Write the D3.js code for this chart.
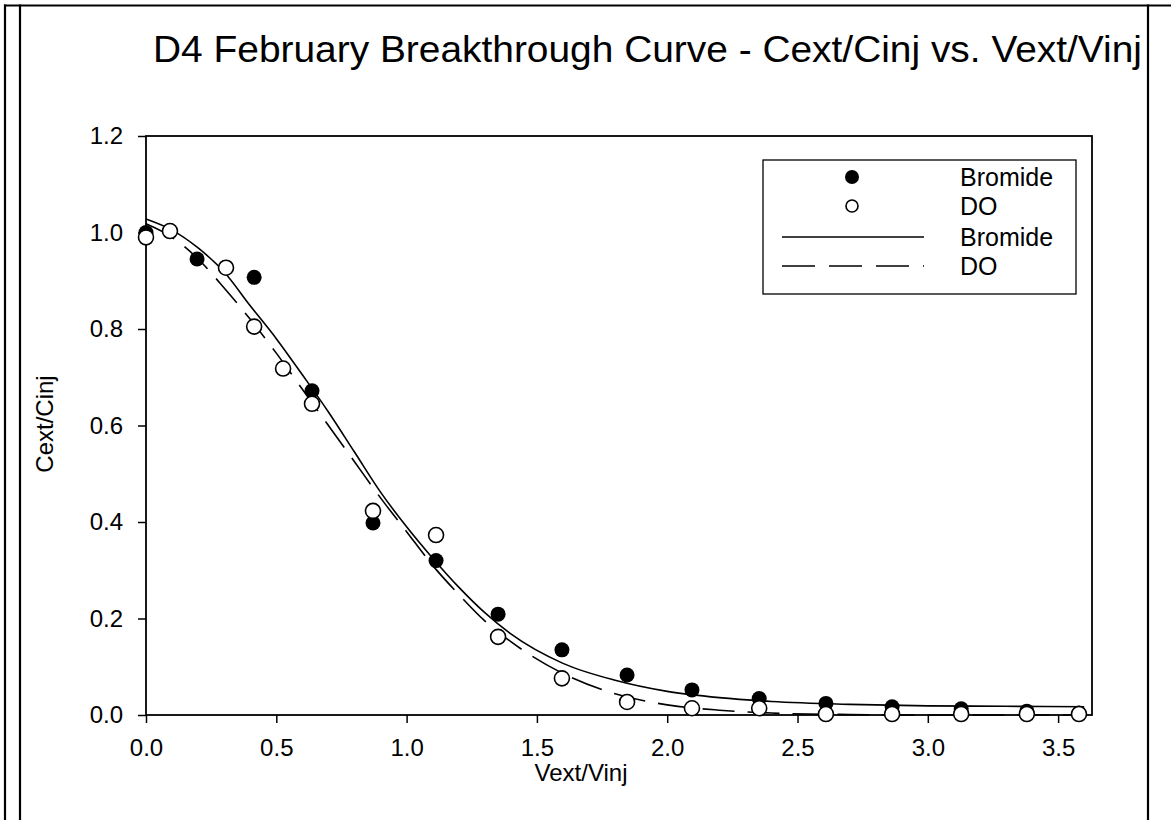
<!DOCTYPE html>
<html>
<head>
<meta charset="utf-8">
<script src="https://cdn.jsdelivr.net/npm/d3@7"></script>
<style>
  html, body { margin: 0; padding: 0; background: #fff; }
  svg { display: block; }
  text { font-family: "Liberation Sans", Arial, sans-serif; fill: #000; }
</style>
</head>
<body>
<svg id="chart" width="1171" height="820"></svg>
<script>
// Measured breakthrough data (Cext/Cinj against Vext/Vinj)
const bromideX = [0.0, 0.196, 0.415, 0.637, 0.871, 1.113, 1.351, 1.596, 1.846, 2.095, 2.353, 2.609, 2.863, 3.128, 3.38, 3.58];
const bromideY = [1.00, 0.945, 0.907, 0.672, 0.398, 0.320, 0.209, 0.135, 0.083, 0.052, 0.034, 0.024, 0.017, 0.013, 0.008, 0.004];

const doX = [0.0, 0.092, 0.307, 0.415, 0.526, 0.637, 0.871, 1.113, 1.351, 1.596, 1.846, 2.095, 2.353, 2.609, 2.863, 3.128, 3.38, 3.58];
const doY = [0.99, 1.003, 0.927, 0.805, 0.718, 0.645, 0.423, 0.373, 0.162, 0.076, 0.027, 0.014, 0.014, 0.002, 0.002, 0.002, 0.002, 0.002];

// Fitted curves, sampled along Vext/Vinj
const fitX       = [0.0, 0.1, 0.2, 0.3, 0.4, 0.5, 0.6, 0.7, 0.8, 0.9, 1.0, 1.1, 1.2, 1.3, 1.4, 1.6, 1.8, 2.0, 2.2, 2.4, 2.7, 3.0, 3.3, 3.6];
const bromideFit = [1.028, 1.005, 0.968, 0.918, 0.848, 0.780, 0.705, 0.628, 0.545, 0.462, 0.390, 0.325, 0.265, 0.212, 0.168, 0.107, 0.072, 0.049, 0.036, 0.028, 0.022, 0.019, 0.018, 0.017];
const doFit      = [1.018, 0.990, 0.945, 0.885, 0.820, 0.750, 0.675, 0.600, 0.525, 0.450, 0.380, 0.310, 0.250, 0.195, 0.152, 0.086, 0.044, 0.021, 0.010, 0.004, 0.001, 0.000, 0.000, 0.000];

const yTicks = [0.0, 0.2, 0.4, 0.6, 0.8, 1.0, 1.2];
const xTicks = [0.0, 0.5, 1.0, 1.5, 2.0, 2.5, 3.0, 3.5];

const titleText = "D4 February Breakthrough Curve - Cext/Cinj vs. Vext/Vinj";
const xLabel = "Vext/Vinj";
const yLabel = "Cext/Cinj";
const legendItems = [
  { label: "Bromide", kind: "filled" },
  { label: "DO", kind: "open" },
  { label: "Bromide", kind: "solid" },
  { label: "DO", kind: "dashed" }
];

const svg = d3.select("#chart");
const W = 1171, H = 820;
const plot = { left: 146, right: 1092, top: 136, bottom: 715 };
const FONT = "Liberation Sans, Arial, sans-serif";

const x = d3.scaleLinear().domain([0, 3.63]).range([plot.left, plot.right]);
const y = d3.scaleLinear().domain([0, 1.2]).range([plot.bottom, plot.top]);

// Page frame lines
const frame = svg.append("g").attr("stroke", "#000").attr("stroke-width", 2.2);
frame.append("line").attr("x1", 4).attr("x2", W).attr("y1", 5.5).attr("y2", 5.5);
frame.append("line").attr("x1", 5).attr("x2", 5).attr("y1", 4.5).attr("y2", H);
frame.append("line").attr("x1", 20).attr("x2", 20).attr("y1", 4.5).attr("y2", H);
frame.append("line").attr("x1", 1148).attr("x2", 1148).attr("y1", 4.5).attr("y2", H);

// Title
svg.append("text")
  .attr("x", 153).attr("y", 62)
  .attr("font-size", 36)
  .attr("textLength", 989).attr("lengthAdjust", "spacingAndGlyphs")
  .text(titleText);

// Axes
const fmt = d3.format(".1f");
svg.append("g")
  .attr("transform", `translate(${plot.left},0)`)
  .call(d3.axisLeft(y).tickValues(yTicks).tickFormat(fmt).tickSize(8).tickPadding(15))
  .call(g => g.select(".domain").remove())
  .call(g => g.selectAll("line").attr("stroke-width", 1.5))
  .call(g => g.selectAll("text").attr("font-size", 24).style("font-family", FONT));

svg.append("g")
  .attr("transform", `translate(0,${plot.bottom})`)
  .call(d3.axisBottom(x).tickValues(xTicks).tickFormat(fmt).tickSize(8).tickPadding(16))
  .call(g => g.select(".domain").remove())
  .call(g => g.selectAll("line").attr("stroke-width", 1.5))
  .call(g => g.selectAll("text").attr("font-size", 24).style("font-family", FONT));

// Plot box
svg.append("rect")
  .attr("x", plot.left).attr("y", plot.top)
  .attr("width", plot.right - plot.left).attr("height", plot.bottom - plot.top)
  .attr("fill", "none").attr("stroke", "#000").attr("stroke-width", 1.8);

// Axis titles
svg.append("text")
  .attr("x", 581).attr("y", 781)
  .attr("text-anchor", "middle").attr("font-size", 24)
  .text(xLabel);
svg.append("text")
  .attr("transform", "translate(53,424) rotate(-90)")
  .attr("text-anchor", "middle").attr("font-size", 24)
  .text(yLabel);

// Fitted curves
const line = d3.line().x(d => x(d[0])).y(d => y(d[1])).curve(d3.curveMonotoneX);
svg.append("path")
  .datum(fitX.map((v, i) => [v, bromideFit[i]]))
  .attr("d", line).attr("fill", "none").attr("stroke", "#000").attr("stroke-width", 1.6);
svg.append("path")
  .datum(fitX.map((v, i) => [v, doFit[i]]))
  .attr("d", line).attr("fill", "none").attr("stroke", "#000").attr("stroke-width", 1.6)
  .attr("stroke-dasharray", "32,13");

// Data points
const R = 7.5;
svg.append("g").selectAll("circle")
  .data(bromideX.map((v, i) => [v, bromideY[i]]))
  .join("circle")
  .attr("cx", d => x(d[0])).attr("cy", d => y(d[1])).attr("r", R)
  .attr("fill", "#000");
svg.append("g").selectAll("circle")
  .data(doX.map((v, i) => [v, doY[i]]))
  .join("circle")
  .attr("cx", d => x(d[0])).attr("cy", d => y(d[1])).attr("r", R)
  .attr("fill", "#fff").attr("stroke", "#000").attr("stroke-width", 1.6);

// Legend
const lg = svg.append("g");
lg.append("rect")
  .attr("x", 763).attr("y", 160).attr("width", 313).attr("height", 134)
  .attr("fill", "#fff").attr("stroke", "#000").attr("stroke-width", 1.3);
const rowY = [177, 206, 237, 266];
legendItems.forEach((item, i) => {
  const cy = rowY[i];
  if (item.kind === "filled") {
    lg.append("circle").attr("cx", 852).attr("cy", cy).attr("r", 7).attr("fill", "#000");
  } else if (item.kind === "open") {
    lg.append("circle").attr("cx", 852).attr("cy", cy).attr("r", 6)
      .attr("fill", "#fff").attr("stroke", "#000").attr("stroke-width", 1.6);
  } else {
    const l = lg.append("line").attr("x1", 782).attr("x2", 924).attr("y1", cy).attr("y2", cy)
      .attr("stroke", "#000").attr("stroke-width", 1.6);
    if (item.kind === "dashed") l.attr("stroke-dasharray", "33,14");
  }
  lg.append("text").attr("x", 960).attr("y", cy).attr("dy", "0.35em")
    .attr("font-size", 25).text(item.label);
});
</script>
</body>
</html>
